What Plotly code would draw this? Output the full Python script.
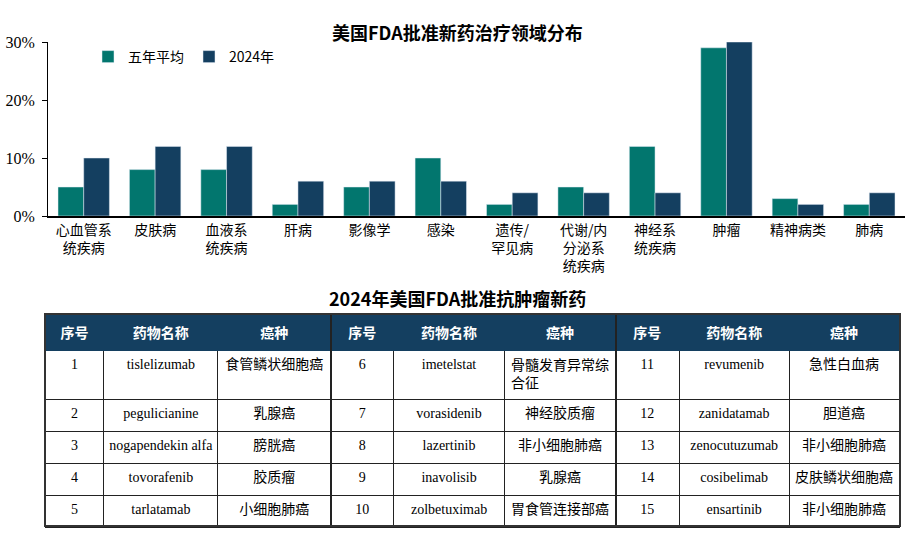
import plotly.graph_objects as go

# ---------------- data ----------------
categories = ["心血管系<br>统疾病", "皮肤病", "血液系<br>统疾病", "肝病", "影像学", "感染",
              "遗传/<br>罕见病", "代谢/内<br>分泌系<br>统疾病", "神经系<br>统疾病", "肿瘤", "精神病类", "肺病"]
five_year_avg = [5, 8, 8, 2, 5, 10, 2, 5, 12, 29, 3, 2]
year_2024 = [10, 12, 12, 6, 6, 6, 4, 4, 4, 30, 2, 4]
y_ticks = [0, 10, 20, 30]
y_tick_labels = ["0%", "10%", "20%", "30%"]

seq_a = ["1", "2", "3", "4", "5"]
drug_a = ["tislelizumab", "pegulicianine", "nogapendekin alfa", "tovorafenib", "tarlatamab"]
cancer_a = ["食管鳞状细胞癌", "乳腺癌", "膀胱癌", "胶质瘤", "小细胞肺癌"]
seq_b = ["6", "7", "8", "9", "10"]
drug_b = ["imetelstat", "vorasidenib", "lazertinib", "inavolisib", "zolbetuximab"]
cancer_b = ["骨髓发育异常综<br>合征", "神经胶质瘤", "非小细胞肺癌", "乳腺癌", "胃食管连接部癌"]
seq_c = ["11", "12", "13", "14", "15"]
drug_c = ["revumenib", "zanidatamab", "zenocutuzumab", "cosibelimab", "ensartinib"]
cancer_c = ["急性白血病", "胆道癌", "非小细胞肺癌", "皮肤鳞状细胞癌", "非小细胞肺癌"]
header_labels = ["序号", "药物名称", "癌种"] * 3

# ---------------- style ----------------
W, H = 915, 534
TEAL = "#02766E"
NAVY = "#143F60"
SERIF = "Liberation Serif, Noto Sans CJK SC, serif"
CJK = "Noto Sans CJK SC, Liberation Serif, serif"

col_w = [59, 114, 113, 63, 111, 111, 64, 110, 110]
tab_left, tab_top = 45, 314
tab_right = tab_left + sum(col_w)
header_h, cell_h = 34, 32


def nb(items):
    # keep multi-word names on one line
    return [s.replace(" ", "\u00a0") for s in items]


fig = go.Figure()
fig.add_trace(go.Bar(x=categories, y=five_year_avg, name="五年平均", marker_color=TEAL))
fig.add_trace(go.Bar(x=categories, y=year_2024, name="2024年", marker_color=NAVY))

fig.add_trace(go.Table(
    domain=dict(x=[tab_left / W, tab_right / W], y=[0, 1 - tab_top / H]),
    columnwidth=col_w,
    header=dict(
        values=["<b>%s</b>" % h for h in header_labels],
        fill_color=NAVY,
        line=dict(color=NAVY, width=1),
        font=dict(family=CJK, size=14, color="white"),
        align="center",
        height=header_h,
    ),
    cells=dict(
        values=[seq_a, nb(drug_a), cancer_a, seq_b, nb(drug_b), cancer_b,
                seq_c, nb(drug_c), cancer_c],
        fill_color="white",
        line=dict(color="#222222", width=1),
        font=dict(family=SERIF, size=14, color="black"),
        align="center",
        height=cell_h,
    ),
))

fig.update_layout(
    width=W, height=H,
    margin=dict(l=0, r=0, t=0, b=0, autoexpand=False),
    paper_bgcolor="white", plot_bgcolor="white",
    barmode="group", bargap=0.28, bargroupgap=0,
    showlegend=True,
    legend=dict(orientation="h", x=88 / W, y=1 - 57 / H, xanchor="left", yanchor="middle",
                font=dict(family=CJK, size=14, color="black"), bgcolor="rgba(0,0,0,0)"),
    xaxis=dict(domain=[48 / W, 905 / W], range=[-0.5, 11.5], showline=True, linecolor="black",
               linewidth=1.5, ticks="", tickfont=dict(family=CJK, size=14, color="black"),
               showgrid=False, fixedrange=True, anchor="y", automargin=False),
    yaxis=dict(domain=[1 - 216 / H, 1 - 42 / H], range=[0, 30], tickvals=y_ticks,
               ticktext=y_tick_labels, showline=True, linecolor="black", linewidth=1,
               ticks="outside", ticklen=5, tickcolor="black", showgrid=False, zeroline=False,
               tickfont=dict(family=SERIF, size=16, color="black"), ticklabelstandoff=4,
               automargin=False),
    font=dict(family=CJK, color="black"),
)

fig.add_annotation(text="<b>美国FDA批准新药治疗领域分布</b>", x=0.5, y=1 - 17 / H, xref="paper",
                   yref="paper", showarrow=False, font=dict(family=CJK, size=18, color="black"))
fig.add_annotation(text="<b>2024年美国FDA批准抗肿瘤新药</b>", x=0.5, y=1 - 298 / H, xref="paper",
                   yref="paper", showarrow=False, font=dict(family=CJK, size=18, color="black"))

# table borders: group separators and outer frame
tab_bottom = 526
x_sep1 = tab_left + sum(col_w[:3])
x_sep2 = tab_left + sum(col_w[:6])
for xs in (x_sep1, x_sep2):
    fig.add_shape(type="line", xref="paper", yref="paper", x0=xs / W, x1=xs / W,
                  y0=1 - tab_bottom / H, y1=1 - tab_top / H, line=dict(color="#222222", width=2))
fig.add_shape(type="rect", xref="paper", yref="paper", x0=tab_left / W, x1=tab_right / W,
              y0=1 - tab_bottom / H, y1=1 - tab_top / H, line=dict(color="#333333", width=2))

fig.write_html("out.html", config={"displayModeBar": False},
               post_script="document.body.style.margin='0px';document.body.style.overflow='hidden';")
